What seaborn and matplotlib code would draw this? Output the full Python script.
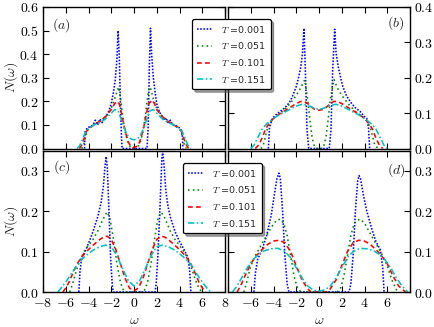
import numpy as np
import pandas as pd
import matplotlib
matplotlib.use("Agg")
import matplotlib.pyplot as plt
from matplotlib.ticker import FuncFormatter, MultipleLocator
from matplotlib.lines import Line2D
import seaborn as sns

# ---------------- data ----------------
temps = ["0.001", "0.051", "0.101", "0.151"]
colors = ["#0000ff", "#008000", "#ff0000", "#00bfbf"]

# panel (a)
w_a1 = [-4.35, -4.3, -4.1, -3.9, -3.6, -3.4, -3.2, -3.0, -2.8, -2.6, -2.4, -2.2, -2.0, -1.8, -1.65, -1.5, -1.4, -1.3, -1.2, -1.1, -1.05,
        1.15, 1.25, 1.35, 1.45, 1.55, 1.7, 1.85, 2.0, 2.2, 2.4, 2.6, 2.8, 3.0, 3.2, 3.4, 3.6, 3.9, 4.1, 4.25, 4.3]
n_a1 = [0, 0.07, 0.088, 0.092, 0.10, 0.12, 0.10, 0.125, 0.11, 0.13, 0.14, 0.16, 0.19, 0.24, 0.29, 0.38, 0.50, 0.40, 0.20, 0.05, 0,
        0, 0.10, 0.35, 0.51, 0.40, 0.30, 0.24, 0.19, 0.16, 0.14, 0.12, 0.13, 0.11, 0.12, 0.10, 0.10, 0.09, 0.085, 0.06, 0]
w_a2 = [-4.6, -4.4, -4.2, -4.0, -3.5, -3.0, -2.5, -2.0, -1.7, -1.5, -1.35, -1.2, -1.0, -0.8, -0.6, -0.4, -0.2, 0, 0.2, 0.4, 0.6, 0.8,
        1.0, 1.2, 1.35, 1.5, 1.7, 2.0, 2.5, 3.0, 3.5, 4.0, 4.2, 4.4, 4.6]
n_a2 = [0, 0.02, 0.06, 0.085, 0.10, 0.115, 0.135, 0.17, 0.21, 0.24, 0.26, 0.22, 0.14, 0.075, 0.035, 0.012, 0.004, 0.003, 0.004, 0.012,
        0.035, 0.075, 0.14, 0.22, 0.26, 0.25, 0.21, 0.17, 0.135, 0.115, 0.10, 0.085, 0.06, 0.02, 0]
w_a3 = [-4.8, -4.6, -4.4, -4.2, -4.0, -3.5, -3.0, -2.5, -2.0, -1.7, -1.5, -1.3, -1.1, -0.9, -0.7, -0.5, -0.3, 0, 0.3, 0.5, 0.7, 0.9,
        1.1, 1.3, 1.6, 1.8, 2.0, 2.5, 3.0, 3.5, 4.0, 4.2, 4.4, 4.6, 4.8]
n_a3 = [0, 0.015, 0.04, 0.07, 0.085, 0.10, 0.115, 0.135, 0.165, 0.19, 0.20, 0.19, 0.15, 0.10, 0.06, 0.028, 0.01, 0.004, 0.01, 0.028,
        0.06, 0.10, 0.15, 0.19, 0.205, 0.19, 0.165, 0.135, 0.115, 0.10, 0.085, 0.07, 0.04, 0.015, 0]
w_a4 = [-5.0, -4.8, -4.6, -4.4, -4.2, -4.0, -3.5, -3.0, -2.5, -2.0, -1.7, -1.4, -1.1, -0.8, -0.5, -0.25, 0, 0.25, 0.5, 0.8, 1.1, 1.4,
        1.7, 2.0, 2.5, 3.0, 3.5, 4.0, 4.2, 4.4, 4.6, 4.8, 5.0]
n_a4 = [0, 0.01, 0.03, 0.055, 0.075, 0.085, 0.10, 0.11, 0.125, 0.15, 0.165, 0.16, 0.12, 0.08, 0.05, 0.04, 0.037, 0.04, 0.05, 0.08,
        0.12, 0.16, 0.165, 0.15, 0.125, 0.11, 0.10, 0.085, 0.075, 0.055, 0.03, 0.01, 0]

# panel (b)
w_b1 = [-4.45, -4.35, -4.1, -3.8, -3.4, -3.0, -2.6, -2.3, -2.0, -1.8, -1.6, -1.45, -1.32, -1.2, -1.05, -0.9,
        0.9, 1.05, 1.2, 1.38, 1.5, 1.7, 1.9, 2.1, 2.4, 2.8, 3.2, 3.6, 4.0, 4.2, 4.35, 4.45]
n_b1 = [0, 0.06, 0.085, 0.095, 0.105, 0.115, 0.13, 0.15, 0.175, 0.2, 0.23, 0.27, 0.34, 0.22, 0.05, 0,
        0, 0.05, 0.22, 0.337, 0.27, 0.23, 0.2, 0.175, 0.15, 0.13, 0.115, 0.105, 0.09, 0.085, 0.06, 0]
w_b2 = [-5.1, -4.9, -4.7, -4.5, -4.2, -3.8, -3.2, -2.6, -2.0, -1.6, -1.26, -1.0, -0.8, -0.6, -0.4, -0.3,
        0.3, 0.4, 0.6, 0.8, 1.0, 1.32, 1.6, 2.0, 2.6, 3.2, 3.8, 4.2, 4.5, 4.7, 4.9, 5.2]
n_b2 = [0, 0.01, 0.035, 0.06, 0.078, 0.09, 0.105, 0.125, 0.15, 0.172, 0.194, 0.14, 0.08, 0.03, 0.005, 0,
        0, 0.005, 0.03, 0.08, 0.14, 0.195, 0.172, 0.15, 0.125, 0.105, 0.09, 0.078, 0.06, 0.035, 0.01, 0]
w_b3 = [-5.6, -5.3, -5.0, -4.7, -4.4, -4.0, -3.5, -3.0, -2.5, -2.0, -1.6, -1.3, -1.0, -0.7, -0.4, 0, 0.4, 0.7, 1.0, 1.3, 1.6,
        2.0, 2.5, 3.0, 3.5, 4.0, 4.4, 4.7, 5.0, 5.3, 5.6]
n_b3 = [0, 0.01, 0.03, 0.055, 0.07, 0.085, 0.097, 0.107, 0.117, 0.127, 0.133, 0.133, 0.127, 0.118, 0.111, 0.108, 0.111, 0.118,
        0.127, 0.133, 0.133, 0.127, 0.117, 0.107, 0.097, 0.085, 0.07, 0.055, 0.03, 0.01, 0]
w_b4 = [-6.0, -5.7, -5.4, -5.0, -4.6, -4.0, -3.5, -3.0, -2.5, -2.0, -1.5, -1.0, -0.5, 0, 0.5, 1.0, 1.5, 2.0, 2.5, 3.0, 3.5,
        4.0, 4.6, 5.0, 5.4, 5.7, 6.0]
n_b4 = [0, 0.01, 0.03, 0.055, 0.07, 0.085, 0.095, 0.103, 0.112, 0.12, 0.125, 0.122, 0.115, 0.11, 0.115, 0.122, 0.125, 0.12,
        0.112, 0.103, 0.095, 0.085, 0.07, 0.055, 0.03, 0.01, 0]

# panel (c)
w_c1 = [-4.85, -4.75, -4.6, -4.3, -4.0, -3.6, -3.2, -2.9, -2.7, -2.55, -2.45, -2.35, -2.2, -2.05, -1.9, -1.82,
        1.85, 1.95, 2.1, 2.3, 2.45, 2.52, 2.65, 2.8, 3.0, 3.2, 3.6, 4.0, 4.4, 4.75, 4.9, 5.0]
n_c1 = [0, 0.05, 0.085, 0.10, 0.12, 0.15, 0.185, 0.22, 0.26, 0.31, 0.335, 0.31, 0.2, 0.08, 0.015, 0,
        0, 0.02, 0.09, 0.22, 0.33, 0.348, 0.31, 0.25, 0.21, 0.185, 0.15, 0.125, 0.105, 0.085, 0.05, 0]
w_c2 = [-5.65, -5.4, -5.1, -4.8, -4.4, -4.0, -3.6, -3.2, -2.8, -2.5, -2.35, -2.1, -1.8, -1.5, -1.2, -1.0, -0.8,
        0.8, 1.0, 1.2, 1.5, 1.8, 2.1, 2.35, 2.6, 2.9, 3.2, 3.6, 4.0, 4.4, 4.8, 5.1, 5.4, 5.7, 5.95]
n_c2 = [0, 0.02, 0.05, 0.075, 0.1, 0.115, 0.13, 0.15, 0.175, 0.192, 0.198, 0.18, 0.13, 0.07, 0.025, 0.008, 0,
        0, 0.008, 0.025, 0.07, 0.13, 0.18, 0.197, 0.19, 0.17, 0.15, 0.13, 0.115, 0.1, 0.08, 0.055, 0.03, 0.01, 0]
w_c3 = [-6.25, -6.0, -5.7, -5.4, -5.0, -4.5, -4.0, -3.5, -3.0, -2.6, -2.35, -2.0, -1.6, -1.2, -0.8, -0.4, 0, 0.4, 0.8, 1.2,
        1.6, 2.0, 2.4, 2.7, 3.0, 3.5, 4.0, 4.5, 5.0, 5.4, 5.7, 6.0, 6.3]
n_c3 = [0, 0.01, 0.025, 0.045, 0.07, 0.09, 0.105, 0.118, 0.13, 0.137, 0.138, 0.13, 0.105, 0.07, 0.035, 0.01, 0.003, 0.01,
        0.035, 0.07, 0.105, 0.13, 0.138, 0.136, 0.13, 0.118, 0.105, 0.09, 0.07, 0.045, 0.025, 0.01, 0]
w_c4 = [-6.7, -6.4, -6.0, -5.5, -5.0, -4.5, -4.0, -3.5, -3.0, -2.5, -2.0, -1.5, -1.0, -0.5, 0, 0.5, 1.0, 1.5, 2.0, 2.5, 3.0,
        3.5, 4.0, 4.5, 5.0, 5.5, 6.0, 6.4, 6.75]
n_c4 = [0, 0.01, 0.025, 0.045, 0.068, 0.083, 0.095, 0.105, 0.112, 0.116, 0.112, 0.09, 0.058, 0.028, 0.015, 0.028, 0.058,
        0.09, 0.112, 0.116, 0.112, 0.105, 0.095, 0.083, 0.068, 0.045, 0.025, 0.01, 0]

# panel (d)
w_d1 = [-5.72, -5.6, -5.4, -5.0, -4.6, -4.2, -3.9, -3.7, -3.52, -3.4, -3.2, -3.0, -2.8, -2.64,
        2.64, 2.8, 3.0, 3.2, 3.4, 3.52, 3.65, 3.9, 4.2, 4.6, 5.0, 5.4, 5.6, 5.72]
n_d1 = [0, 0.045, 0.08, 0.105, 0.14, 0.19, 0.245, 0.28, 0.294, 0.28, 0.2, 0.09, 0.02, 0,
        0, 0.02, 0.09, 0.2, 0.275, 0.288, 0.28, 0.24, 0.2, 0.16, 0.125, 0.104, 0.06, 0]
w_d2 = [-6.6, -6.3, -6.0, -5.6, -5.2, -4.8, -4.4, -4.0, -3.7, -3.4, -3.1, -2.8, -2.5, -2.2, -1.9, -1.6,
        1.6, 1.9, 2.2, 2.5, 2.8, 3.1, 3.4, 3.66, 4.0, 4.4, 4.8, 5.2, 5.6, 6.0, 6.4, 6.9]
n_d2 = [0, 0.03, 0.065, 0.09, 0.11, 0.13, 0.15, 0.168, 0.178, 0.18, 0.17, 0.14, 0.09, 0.04, 0.01, 0,
        0, 0.01, 0.04, 0.09, 0.14, 0.17, 0.178, 0.18, 0.17, 0.15, 0.13, 0.11, 0.09, 0.065, 0.03, 0]
w_d3 = [-7.2, -6.9, -6.5, -6.0, -5.5, -5.0, -4.5, -4.0, -3.5, -3.0, -2.5, -2.0, -1.5, -1.0, -0.7,
        0.7, 1.0, 1.5, 2.0, 2.5, 3.0, 3.5, 4.0, 4.5, 5.0, 5.5, 6.0, 6.5, 7.0, 7.6]
n_d3 = [0, 0.015, 0.04, 0.07, 0.09, 0.105, 0.118, 0.126, 0.128, 0.122, 0.1, 0.065, 0.03, 0.008, 0,
        0, 0.008, 0.03, 0.065, 0.1, 0.122, 0.128, 0.126, 0.118, 0.105, 0.09, 0.07, 0.04, 0.015, 0]
w_d4 = [-7.6, -7.2, -6.8, -6.3, -5.8, -5.3, -4.8, -4.2, -3.6, -3.0, -2.5, -2.0, -1.5, -1.0, -0.5, 0, 0.5, 1.0, 1.5, 2.0,
        2.5, 3.0, 3.6, 4.2, 4.8, 5.3, 5.8, 6.3, 6.8, 7.3, 7.8]
n_d4 = [0, 0.015, 0.035, 0.06, 0.08, 0.093, 0.102, 0.107, 0.108, 0.1, 0.085, 0.06, 0.035, 0.015, 0.005, 0.002, 0.005,
        0.015, 0.035, 0.06, 0.085, 0.1, 0.108, 0.107, 0.102, 0.093, 0.08, 0.06, 0.035, 0.015, 0]

panel_labels = ["(a)", "(b)", "(c)", "(d)"]
x_ticks = [-8, -6, -4, -2, 0, 2, 4, 6, 8]
ylims = [0.6, 0.4, 0.35, 0.35]

# ---------------- style ----------------
sns.set_theme(style="ticks")
plt.rcParams.update({
    "font.family": ["DejaVu Sans"],
    "mathtext.fontset": "cm",
    "xtick.direction": "in",
    "ytick.direction": "in",
    "xtick.top": True,
    "ytick.right": True,
    "xtick.major.size": 4,
    "ytick.major.size": 4,
    "xtick.major.width": 0.8,
    "ytick.major.width": 0.8,
    "axes.linewidth": 1.0,
    "axes.edgecolor": "black",
    "xtick.color": "black",
    "ytick.color": "black",
})

label_T = [r"$T$ =" + t for t in temps]
dash_styles = [(1, 1), (1, 2), (3, 2), (4, 1.5, 1, 1.5)]
pal = dict(zip(label_T, colors))
dsh = dict(zip(label_T, dash_styles))
LW = 1.15

fig = plt.figure(figsize=(4.34, 3.27), dpi=100)
W, H = 434.0, 327.0
pos = [
    (43, 7, 225, 148.5),
    (228, 7, 410, 148.5),
    (43, 150.5, 225, 292),
    (228, 150.5, 410, 292),
]
axes = [fig.add_axes([l / W, 1 - b / H, (r - l) / W, (b - t) / H]) for (l, t, r, b) in pos]

panel_data = [
    [(w_a1, n_a1), (w_a2, n_a2), (w_a3, n_a3), (w_a4, n_a4)],
    [(w_b1, n_b1), (w_b2, n_b2), (w_b3, n_b3), (w_b4, n_b4)],
    [(w_c1, n_c1), (w_c2, n_c2), (w_c3, n_c3), (w_c4, n_c4)],
    [(w_d1, n_d1), (w_d2, n_d2), (w_d3, n_d3), (w_d4, n_d4)],
]

yfmt = FuncFormatter(lambda v, p: r"$%.1f$" % v)

for i, ax in enumerate(axes):
    frames = []
    for lab, (w, n) in zip(label_T, panel_data[i]):
        frames.append(pd.DataFrame({"w": w, "N": n, "T": lab}))
    df = pd.concat(frames, ignore_index=True)
    sns.lineplot(data=df, x="w", y="N", hue="T", style="T", palette=pal, dashes=dsh,
                 sort=False, estimator=None, legend=False, linewidth=LW, ax=ax)
    ax.set_xlim(-8, 8)
    ax.set_ylim(0, ylims[i])
    ax.set_xticks(x_ticks)
    ax.yaxis.set_major_locator(MultipleLocator(0.1))
    ax.yaxis.set_major_formatter(yfmt)
    ax.tick_params(labelsize=10, pad=3)
    ax.set_xlabel("")
    ax.set_ylabel("")
    if i in (1, 3):
        ax.yaxis.tick_right()
        ax.tick_params(axis="y", left=True, right=True, labelleft=False, labelright=True)
    else:
        ax.tick_params(axis="y", left=True, right=True, labelleft=True, labelright=False)
    if i < 2:
        ax.tick_params(axis="x", labelbottom=False)
    elif i == 2:
        ax.xaxis.set_major_formatter(FuncFormatter(lambda v, p: r"$%d$" % round(v)))
    else:
        ax.xaxis.set_major_formatter(FuncFormatter(
            lambda v, p: "" if abs(v) > 7 else r"$%d$" % round(v)))
    for s in ax.spines.values():
        s.set_visible(True)
        s.set_color("black")

for ax in (axes[0], axes[2]):
    ax.set_ylabel(r"$N(\omega)$", fontsize=10)
    ax.yaxis.set_label_coords(-0.125, 0.5)
for ax in (axes[2], axes[3]):
    ax.set_xlabel(r"$\omega$", fontsize=10)
    ax.xaxis.set_label_coords(0.5, -0.15)

tpos = [(0.10, 0.873), (0.923, 0.887), (0.10, 0.883), (0.923, 0.862)]
for ax, lab, (tx, ty) in zip(axes, panel_labels, tpos):
    ax.text(tx, ty, r"$%s$" % lab, transform=ax.transAxes, ha="center", va="center", fontsize=10)

handles = [Line2D([], [], color=c, linestyle=(0, d), linewidth=LW) for c, d in zip(colors, dash_styles)]
for (lx, ly) in [(192, 19), (183, 163)]:
    leg = fig.legend(handles, label_T, loc="upper left", bbox_to_anchor=(lx / W, 1 - ly / H),
                     borderaxespad=0, fontsize=6.8, frameon=True, fancybox=True, shadow=True,
                     framealpha=1, edgecolor="black", handlelength=1.6, handletextpad=1.0,
                     labelspacing=0.6, borderpad=0.5)
    leg.get_frame().set_linewidth(0.9)
    leg.set_zorder(10)

fig.savefig("out.png", dpi=100)
